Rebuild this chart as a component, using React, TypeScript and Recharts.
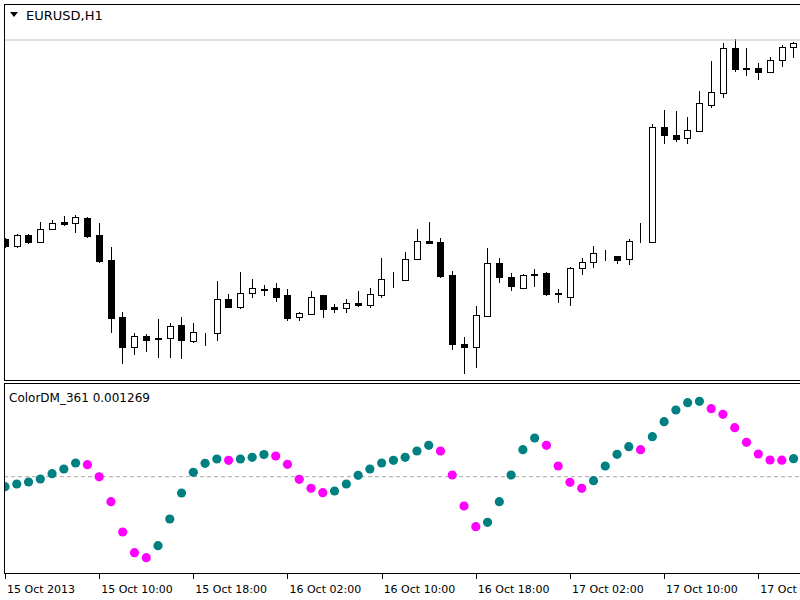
import React from 'react';
import { ComposedChart, Bar, Scatter, XAxis, YAxis, ReferenceLine } from 'recharts';

// EURUSD H1 candles, 68 bars
const opens = [
  1.35905, 1.3587, 1.35925, 1.3589, 1.35955, 1.3599, 1.35985, 1.3601, 1.35925, 1.358,
  1.35515, 1.35365, 1.3542, 1.3541, 1.3541, 1.35475, 1.35395, 1.35435, 1.35435, 1.35605,
  1.35565, 1.35635, 1.35655, 1.3566, 1.35625, 1.35515, 1.3553, 1.35625, 1.35565, 1.3556,
  1.35585, 1.35575, 1.35625, 1.35705, 1.357, 1.35805, 1.35895, 1.3589, 1.35725, 1.3538,
  1.35365, 1.3552, 1.35785, 1.35715, 1.3566, 1.3573, 1.35735, 1.35635, 1.35615, 1.3576,
  1.3579, 1.3582, 1.3582, 1.35805, 1.35895, 1.3589, 1.36465, 1.36425, 1.3641, 1.36445,
  1.36575, 1.36635, 1.3686, 1.3676, 1.3676, 1.3674, 1.368, 1.36865,
];
const highs = [
  1.3591, 1.3593, 1.3593, 1.3599, 1.36, 1.3602, 1.36025, 1.36015, 1.35985, 1.35865,
  1.3554, 1.35435, 1.3543, 1.35505, 1.35485, 1.35515, 1.35485, 1.35435, 1.35695, 1.3563,
  1.3574, 1.35705, 1.35675, 1.35685, 1.35655, 1.3554, 1.35645, 1.35625, 1.3558, 1.35605,
  1.35645, 1.3566, 1.3581, 1.3574, 1.3584, 1.35955, 1.3599, 1.3591, 1.35745, 1.35415,
  1.3557, 1.3586, 1.3581, 1.35735, 1.3573, 1.35755, 1.3574, 1.35655, 1.35765, 1.3581,
  1.3587, 1.3585, 1.3582, 1.35905, 1.35985, 1.3648, 1.3655, 1.36545, 1.36515, 1.36645,
  1.36795, 1.36885, 1.36905, 1.3686, 1.36785, 1.36815, 1.36875, 1.3689,
];
const lows = [
  1.35865, 1.35865, 1.35885, 1.3589, 1.35955, 1.35975, 1.3594, 1.35915, 1.3579, 1.3544,
  1.35285, 1.3533, 1.35345, 1.35315, 1.35315, 1.3531, 1.3539, 1.35375, 1.354, 1.35565,
  1.3556, 1.35615, 1.35625, 1.35595, 1.355, 1.355, 1.3553, 1.35515, 1.3554, 1.3554,
  1.3557, 1.35565, 1.35615, 1.35665, 1.357, 1.35805, 1.35885, 1.35715, 1.35355, 1.35235,
  1.35265, 1.3552, 1.3569, 1.3565, 1.3566, 1.3567, 1.35625, 1.3559, 1.35575, 1.3573,
  1.35765, 1.358, 1.35785, 1.3578, 1.3589, 1.3589, 1.36385, 1.36395, 1.36385, 1.36445,
  1.36565, 1.36615, 1.36745, 1.36725, 1.36705, 1.3674, 1.3677, 1.36815,
];
const closes = [
  1.3587, 1.35925, 1.3589, 1.35955, 1.35985, 1.3598, 1.36015, 1.3592, 1.35795, 1.3551,
  1.35365, 1.3542, 1.354, 1.35405, 1.3547, 1.354, 1.3544, 1.35435, 1.35605, 1.35565,
  1.35635, 1.3566, 1.3565, 1.35615, 1.3551, 1.35535, 1.35615, 1.35555, 1.35555, 1.35585,
  1.35575, 1.3563, 1.35705, 1.35705, 1.35805, 1.35895, 1.35885, 1.3572, 1.3538, 1.35365,
  1.35525, 1.35785, 1.35715, 1.3567, 1.35725, 1.35725, 1.3563, 1.3563, 1.3576, 1.3579,
  1.35835, 1.3582, 1.358, 1.35895, 1.35895, 1.36465, 1.36425, 1.36405, 1.3645, 1.36585,
  1.3664, 1.3686, 1.36755, 1.36755, 1.3674, 1.368, 1.36865, 1.36885,
];
const priceLine = 1.369;

// ColorDM_361 indicator
const dmValues = [
  -0.000705, -0.000515, -0.000374, -0.000162, 0.000212, 0.000543, 0.000966, 0.000846, -0.00001, -0.001763,
  -0.003899, -0.005358, -0.005711, -0.004865, -0.002982, -0.001149, 0.00031, 0.000945, 0.001248, 0.001156,
  0.001248, 0.001368, 0.001565, 0.001459, 0.000874, -0.000183, -0.000818, -0.001128, -0.001008, -0.000515,
  0.000099, 0.000543, 0.000966, 0.001156, 0.001368, 0.001812, 0.002214, 0.001812, 0.00012, -0.002066,
  -0.003525, -0.003215, -0.001763, 0.00012, 0.001904, 0.002728, 0.002214, 0.000754, -0.000395, -0.000818,
  -0.000282, 0.000754, 0.001579, 0.002115, 0.001904, 0.00282, 0.003878, 0.004702, 0.005217, 0.005316,
  0.004794, 0.004399, 0.003455, 0.002425, 0.0016, 0.001177, 0.001165, 0.001269,
];

const tickBars = [0, 8, 16, 24, 32, 40, 48, 56, 64];
const tickLabels = [
  '15 Oct 2013', '15 Oct 10:00', '15 Oct 18:00', '16 Oct 02:00', '16 Oct 10:00',
  '16 Oct 18:00', '17 Oct 02:00', '17 Oct 10:00', '17 Oct 18:00',
];

const candles = opens.map((o, i) => ({
  i,
  open: o,
  high: highs[i],
  low: lows[i],
  close: closes[i],
  range: [lows[i], highs[i]],
}));

const dmData = dmValues.map((v, i) => ({
  i,
  v,
  color: i > 0 && v < dmValues[i - 1] ? '#FF00FF' : '#008080',
}));

const xDomain = [-0.085, 67.545];
const FONT = '"DejaVu Sans", Verdana, sans-serif';

const Candle = (props: any) => {
  const { x, y, width, height, payload } = props;
  const { open, close, high, low } = payload;
  const top = Math.min(y, y + height);
  const h = Math.abs(height);
  const k = high > low ? h / (high - low) : 0;
  const toY = (v: number) => top + (high - v) * k;
  const cx = Math.round(x + width / 2) + 0.5;
  const yo = toY(open);
  const yc = toY(close);
  const bTop = Math.round(Math.min(yo, yc)) + 0.5;
  const bBot = Math.round(Math.max(yo, yc)) + 0.5;
  const up = close >= open;
  return (
    <g>
      <line x1={cx} x2={cx} y1={Math.round(top)} y2={Math.round(top + h) + 1} stroke="#000" />
      <rect x={cx - 3} y={bTop} width={6} height={bBot - bTop} fill={up ? '#fff' : '#000'} stroke="#000" />
    </g>
  );
};

const Dot = (props: any) => {
  const { cx, cy, payload } = props;
  return <circle cx={cx} cy={cy} r={4.6} fill={payload.color} />;
};

const TimeTick = (props: any) => {
  const { x, y, payload } = props;
  const tx = Math.round(x) + 0.5;
  const idx = tickBars.indexOf(payload.value);
  return (
    <g>
      <line x1={tx} x2={tx} y1={y} y2={y + 6} stroke="#000" />
      <text x={x + 2} y={y + 20} fontSize={11} fontFamily={FONT} fill="#000">
        {tickLabels[idx]}
      </text>
    </g>
  );
};

export default function App() {
  return (
    <div style={{ position: 'absolute', left: 0, top: 0, width: 800, height: 600, background: '#fff', overflow: 'hidden' }}>
      <div style={{ position: 'absolute', left: 0, top: 0 }}>
        <ComposedChart width={800} height={381} data={candles} margin={{ top: 5, right: 0, left: 4, bottom: 1 }}>
          <XAxis dataKey="i" type="number" domain={xDomain} allowDataOverflow hide />
          <YAxis type="number" domain={[1.352, 1.37075]} allowDataOverflow hide />
          <ReferenceLine y={priceLine} stroke="#c0c0c0" strokeWidth={1} />
          <Bar dataKey="range" shape={<Candle />} isAnimationActive={false} />
        </ComposedChart>
      </div>
      <div style={{ position: 'absolute', left: 0, top: 384 }}>
        <ComposedChart width={800} height={216} data={dmData} margin={{ top: 0, right: 0, left: 4, bottom: 0 }}>
          <XAxis
            dataKey="i"
            type="number"
            domain={xDomain}
            allowDataOverflow
            ticks={tickBars}
            interval={0}
            height={27}
            axisLine={false}
            tickLine={false}
            tickSize={0}
            tickMargin={0}
            tick={<TimeTick />}
          />
          <YAxis type="number" domain={[-0.0067892, 0.0065354]} allowDataOverflow hide />
          <ReferenceLine y={0} stroke="#a8a8a8" strokeDasharray="4 3" />
          <Scatter dataKey="v" shape={<Dot />} isAnimationActive={false} />
        </ComposedChart>
      </div>
      <svg width={800} height={600} style={{ position: 'absolute', left: 0, top: 0, pointerEvents: 'none' }}>
        <g stroke="#000" strokeWidth={1} shapeRendering="crispEdges">
          <line x1={4} x2={800} y1={4.5} y2={4.5} />
          <line x1={4.5} x2={4.5} y1={4} y2={381} />
          <line x1={4} x2={800} y1={380.5} y2={380.5} />
          <line x1={4} x2={800} y1={383.5} y2={383.5} />
          <line x1={4.5} x2={4.5} y1={383} y2={574} />
          <line x1={4} x2={800} y1={573.5} y2={573.5} />
        </g>
        <polygon points="10,12 18,12 14,17" fill="#000" />
        <text x={26} y={20} fontSize={13} fontFamily={FONT} fill="#000">EURUSD,H1</text>
        <text x={9} y={402} fontSize={12} fontFamily={FONT} fill="#000">
          {`ColorDM_361 ${dmValues[dmValues.length - 1].toFixed(6)}`}
        </text>
      </svg>
    </div>
  );
}
